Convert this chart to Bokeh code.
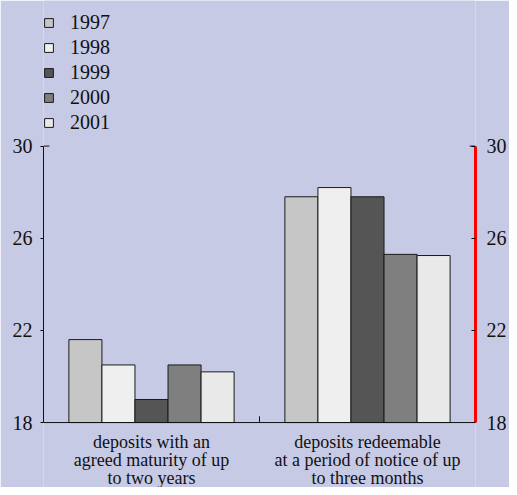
from bokeh.plotting import figure
from bokeh.models import (FactorRange, Range1d, LinearAxis, FixedTicker, Legend,
                          LegendItem, ColumnDataSource, Span)
from bokeh.core.properties import value
from bokeh.transform import dodge
from bokeh.embed import file_html
from bokeh.resources import INLINE

categories = ["deposits with an\nagreed maturity of up\nto two years",
              "deposits redeemable\nat a period of notice of up\nto three months"]
years = ["1997", "1998", "1999", "2000", "2001"]
values = {
    "1997": [21.6, 27.8],
    "1998": [20.5, 28.2],
    "1999": [19.0, 27.8],
    "2000": [20.5, 25.3],
    "2001": [20.2, 25.25],
}
colors = ["#c6c6c6", "#efefef", "#555555", "#7f7f7f", "#e9e9e9"]
yticks = [18, 22, 26, 30]
y_min, y_max = 18, 30

BG = "#c6cae5"
INK = "#111111"
FONT = "Liberation Serif"

p = figure(width=509, height=487, x_range=FactorRange(factors=categories, range_padding=0),
           y_range=Range1d(15.18, 36.32), output_backend="svg", toolbar_location=None,
           x_axis_location=None,
           min_border_left=43, min_border_right=32, min_border_top=0, min_border_bottom=0)
p.background_fill_color = BG
p.border_fill_color = BG
p.outline_line_color = None
p.xgrid.visible = False
p.ygrid.visible = False

src = ColumnDataSource(dict(cat=categories, base=[y_min] * len(categories), **values))
bw = 0.153
items = []
for i, (yr, c) in enumerate(zip(years, colors)):
    r = p.vbar(x=dodge("cat", (i - 2) * bw, range=p.x_range), top=yr, bottom=y_min, width=bw,
               source=src, fill_color=c, line_color="#1a1a1a", line_width=1)
    items.append(LegendItem(label=yr, renderers=[r]))

p.add_layout(Span(location=y_min, dimension="width", line_color=INK, line_width=1))

p.text(x="cat", y="base", text="cat", source=src, text_align="center", text_baseline="top",
       y_offset=9, text_font=value(FONT), text_font_size="18px", text_color=INK,
       text_line_height=0.92)

ra = LinearAxis(ticker=FixedTicker(ticks=yticks), bounds=(y_min, y_max))
p.add_layout(ra, "right")

for ax in p.yaxis:
    ax.ticker = FixedTicker(ticks=yticks)
    ax.bounds = (y_min, y_max)
    ax.minor_tick_line_color = None
    ax.major_label_text_font = FONT
    ax.major_label_text_font_size = "20px"
    ax.major_label_text_color = INK
    ax.axis_line_color = INK

p.left[0].major_tick_out = 3
p.left[0].major_tick_in = 0
p.left[0].major_label_standoff = 8
ra.major_tick_out = 0
ra.major_tick_in = 4
ra.major_label_standoff = 11
ra.axis_line_color = "red"
ra.axis_line_width = 3

mid = len(categories) / 2
p.segment(x0=[mid], y0=[y_min], x1=[mid], y1=[y_min + 0.27], line_color=INK, line_width=1)
p.segment(x0=[0, len(categories)], y0=[y_max, y_max],
          x1=[0.027, len(categories) - 0.027], y1=[y_max, y_max],
          line_color=INK, line_width=1)

legend = Legend(items=items, location=(0, 353), orientation="vertical",
                label_text_font=FONT, label_text_font_size="20px", label_text_color=INK,
                glyph_width=11, glyph_height=11, label_height=20, spacing=2,
                label_standoff=16, padding=0, margin=0,
                background_fill_alpha=0, border_line_alpha=0)
p.add_layout(legend)

open("out.html", "w").write(file_html(p, INLINE))
